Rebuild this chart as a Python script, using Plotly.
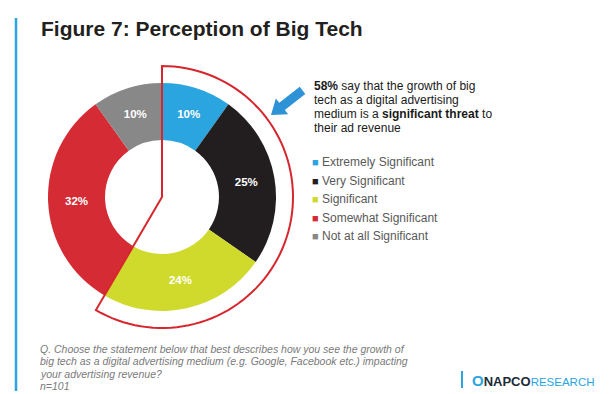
import math
import plotly.graph_objects as go

# ---- data ----
labels = ["Extremely Significant", "Very Significant", "Significant",
          "Somewhat Significant", "Not at all Significant"]
values = [10, 25, 24, 32, 10]
colors = ["#2AA5DF", "#221E1F", "#CFDA2C", "#D52B34", "#888888"]
n_threat = 3  # first three categories = "significant threat" (58%)

title_text = "Figure 7: Perception of Big Tech"
callout_lines = [
    "<b>58%</b> say that the growth of big",
    "tech as a digital advertising",
    "medium is a <b>significant threat</b> to",
    "their ad revenue",
]
footer_lines = [
    "Q. Choose the statement below that best describes how you see the growth of",
    "big tech as a digital advertising medium (e.g. Google, Facebook etc.) impacting",
    "your advertising revenue?",
    "n=101",
]

# ---- layout helpers ----
W, H = 612, 394
cx, cy, R = 154, 189, 114
hole = 0.5
R_out = 131


def px(x):
    return x / W


def py(y):
    return 1 - y / H


fig = go.Figure(go.Pie(
    labels=labels, values=values,
    text=[f"{v}%" for v in values],
    texttemplate="<b>%{text}</b>", textinfo="text",
    textposition="inside", insidetextorientation="horizontal",
    marker=dict(colors=colors, line=dict(width=0)),
    hole=hole, sort=False, direction="clockwise", rotation=0,
    domain=dict(x=[px(cx - R), px(cx + R)], y=[py(cy + R), py(cy - R)]),
    textfont=dict(color="white", size=11.5, family="Liberation Sans"),
    hoverinfo="label+text", showlegend=False,
))

shapes = []
# outline wedge around the "threat" share, computed from data
frac = sum(values[:n_threat]) / sum(values)
ang = frac * 2 * math.pi
pts = [(cx, cy), (cx, cy - R_out)]
steps = 80
for i in range(1, steps + 1):
    t = ang * i / steps
    pts.append((cx + R_out * math.sin(t), cy - R_out * math.cos(t)))
path = "M " + " L ".join(f"{px(x):.5f},{py(y):.5f}" for x, y in pts) + " Z"
shapes.append(dict(type="path", path=path, xref="paper", yref="paper",
                   line=dict(color="#D7262E", width=2), fillcolor="rgba(0,0,0,0)"))

# blue arrow
T = (263, 107)
ux, uy = -0.788, 0.616
nx, ny = 0.616, 0.788
B = (T[0] - 14 * ux, T[1] - 14 * uy)
S = (T[0] - 40 * ux, T[1] - 40 * uy)
poly = [
    (S[0] + 4.5 * nx, S[1] + 4.5 * ny),
    (B[0] + 4.5 * nx, B[1] + 4.5 * ny),
    (B[0] + 10 * nx, B[1] + 10 * ny),
    T,
    (B[0] - 10 * nx, B[1] - 10 * ny),
    (B[0] - 4.5 * nx, B[1] - 4.5 * ny),
    (S[0] - 4.5 * nx, S[1] - 4.5 * ny),
]
apath = "M " + " L ".join(f"{px(x):.5f},{py(y):.5f}" for x, y in poly) + " Z"
shapes.append(dict(type="path", path=apath, xref="paper", yref="paper",
                   line=dict(width=0), fillcolor="#2E93D6"))

# left accent bar
shapes.append(dict(type="line", xref="paper", yref="paper",
                   x0=px(8), x1=px(8), y0=py(10), y1=py(383),
                   line=dict(color="#2AA5DF", width=2.5)))
# logo bar
shapes.append(dict(type="line", xref="paper", yref="paper",
                   x0=px(454), x1=px(454), y0=py(363), y1=py(380),
                   line=dict(color="#2AA5DF", width=2)))

ann = []
ann.append(dict(text=f"<b>{title_text}</b>", x=px(31), y=py(21), xref="paper", yref="paper",
                xanchor="left", yanchor="middle", showarrow=False,
                font=dict(family="Liberation Sans", size=21, color="#231F20")))

for i, line in enumerate(callout_lines):
    ann.append(dict(text=line, x=px(304), y=py(77.5 + 14.3 * i), xref="paper", yref="paper",
                    xanchor="left", yanchor="middle", showarrow=False,
                    font=dict(family="Liberation Sans", size=12, color="#1A1A1A")))

for i, (lab, col) in enumerate(zip(labels, colors)):
    ann.append(dict(text=f"<span style='color:{col};font-size:11px'>■</span> {lab}",
                    x=px(302), y=py(154 + 18.5 * i), xref="paper", yref="paper",
                    xanchor="left", yanchor="middle", showarrow=False,
                    font=dict(family="Liberation Sans", size=12, color="#595959")))

for i, line in enumerate(footer_lines):
    ann.append(dict(text=f"<i>{line}</i>", x=px(30), y=py(341 + 12.4 * i), xref="paper", yref="paper",
                    xanchor="left", yanchor="middle", showarrow=False,
                    font=dict(family="Liberation Sans", size=10.5, color="#7A7A7A")))

ann.append(dict(text="<span style='color:#2AA5DF;font-size:15px'><b>O</b></span>"
                     "<span style='color:#1C2B39;font-size:13px'><b>NAPCO</b></span>"
                     "<span style='color:#2AA5DF;font-size:11.5px'>RESEARCH</span>",
                x=px(462), y=py(372), xref="paper", yref="paper",
                xanchor="left", yanchor="middle", showarrow=False,
                font=dict(family="Liberation Sans", size=13)))

fig.update_layout(
    width=W, height=H, margin=dict(l=0, r=0, t=0, b=0),
    paper_bgcolor="white", plot_bgcolor="white",
    shapes=shapes, annotations=ann, showlegend=False,
)

fig.write_html("out.html")
